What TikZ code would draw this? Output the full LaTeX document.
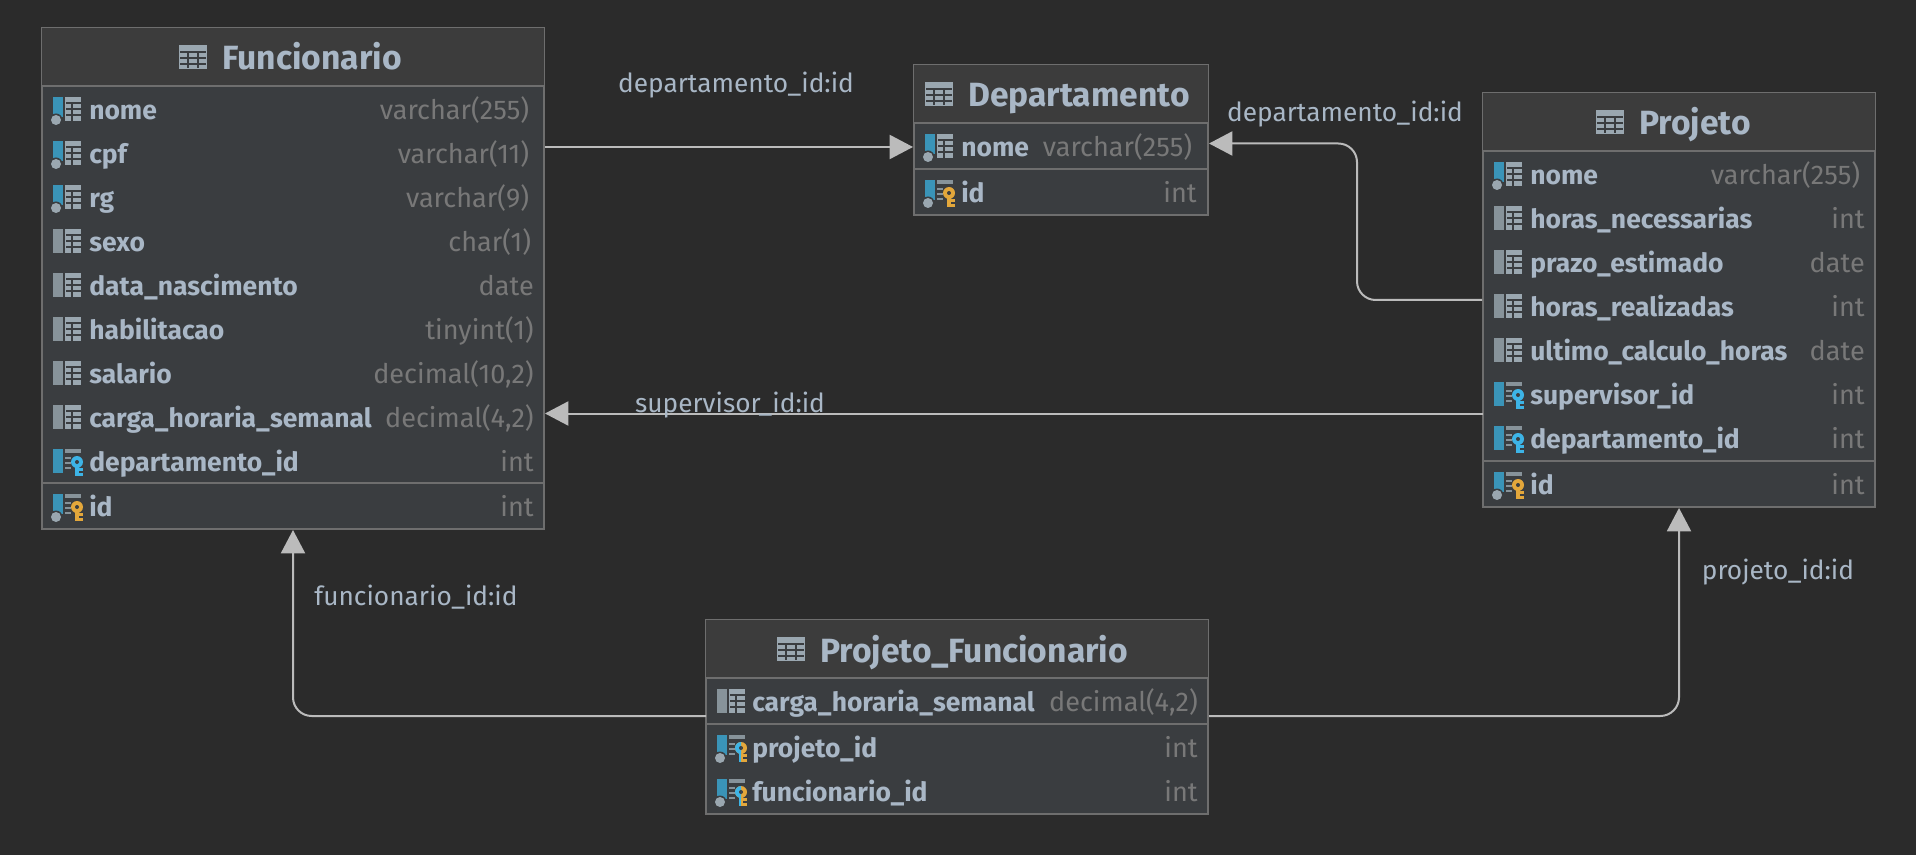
\documentclass[tikz,border=0pt]{standalone}
\usepackage{fontspec}
\setmainfont{Fira Sans}
\usetikzlibrary{arrows.meta,fit}
\definecolor{canvas}{HTML}{2B2B2B}
\definecolor{headfill}{HTML}{3C3C3C}
\definecolor{bodyfill}{HTML}{3A3D40}
\definecolor{rulegrey}{HTML}{6E6E6E}
\definecolor{namecol}{HTML}{A9B7C6}
\definecolor{typecol}{HTML}{787878}
\definecolor{linkcol}{HTML}{BBBBBB}
\definecolor{icongrey}{HTML}{9AA7B0}
\definecolor{barblue}{HTML}{3A94B8}
\definecolor{barmuted}{HTML}{87939A}
\definecolor{keygold}{HTML}{E3A73B}
\definecolor{keyblue}{HTML}{3DB4E6}
\tikzset{
  tablebox/.style={draw=rulegrey, line width=1.5pt, fill=bodyfill, inner sep=0pt},
  tablerule/.style={draw=rulegrey, line width=1.5pt},
  titletext/.style={font=\fontsize{25.2}{27}\selectfont\bfseries, text=namecol, anchor=base west, inner sep=0pt},
  nametext/.style={font=\fontsize{19.85}{22}\selectfont\bfseries, text=namecol, anchor=base west, inner sep=0pt},
  typetext/.style={font=\fontsize{20.3}{22}\selectfont, text=typecol, anchor=base east, inner sep=0pt},
  linktext/.style={font=\fontsize{19.7}{22}\selectfont, text=namecol, inner sep=0pt},
  fklink/.style={draw=linkcol, line width=1.5pt, rounded corners=14pt, -{Triangle[length=17.5pt,width=18pt,color=linkcol]}},
  pics/tablemark/.style={code={
    \fill[icongrey] (0,-12) rectangle (28,12);
    \foreach \gy in {-5,1,7} \draw[bodyfill,line width=.9pt] (1,\gy) -- (27,\gy);
    \foreach \gx in {9,19} \draw[bodyfill,line width=.9pt] (\gx,-5) -- (\gx,11);
  }},
  pics/cellgrid/.style={code={
    \fill[icongrey] (12,-13) rectangle (28,11);
    \foreach \gy in {-7,-1,5} \draw[bodyfill,line width=.9pt] (13,\gy) -- (28,\gy);
    \draw[bodyfill,line width=.9pt] (19,-7) -- (19,11);
  }},
  pics/celllist/.style={code={
    \fill[barmuted] (12,-13) rectangle (28,-9);
    \foreach \gy in {-4,1,6} \draw[barmuted,line width=1pt] (12,\gy) -- (18,\gy);
  }},
  pics/keymark/.style={code={
    \fill[#1] (22,0) rectangle (26,14);
    \fill[#1] (26,6) rectangle (30,9);
    \fill[#1] (26,11) rectangle (30,14);
    \fill[#1] (24,0) circle (6);
    \fill[bodyfill] (24,0) circle (2);
  }},
  pics/nullbar/.style={code={
    \fill[barblue] (0,-13) rectangle (10,7);
    \fill[bodyfill] (3,10) circle (6.5);
    \fill[icongrey] (3,10) circle (5);
  }},
  pics/plain/.style={code={
    \fill[barmuted] (0,-13) rectangle (10,11);
    \pic {cellgrid};
  }},
  pics/indexed/.style={code={
    \pic {nullbar};
    \pic {cellgrid};
  }},
  pics/foreign/.style={code={
    \fill[barblue] (0,-13) rectangle (10,11);
    \pic {celllist};
    \pic {keymark=keyblue};
  }},
  pics/primary/.style={code={
    \pic {nullbar};
    \pic {celllist};
    \pic {keymark=keygold};
  }},
  pics/composite/.style={code={
    \pic {nullbar};
    \pic {celllist};
    \pic {keymark=keygold};
    \fill[keyblue] (22,0) rectangle (24,14);
    \begin{scope}
      \clip (18,-6) rectangle (24,6);
      \fill[keyblue] (24,0) circle (6);
      \fill[bodyfill] (24,0) circle (2);
    \end{scope}
  }},
}
% header band and its rule, #1 table, #2 y of the rule
\newcommand\tablehead[2]{
  \fill[headfill] ([shift={(1,1)}]#1.north west) rectangle ([xshift=-1pt]#1.east |- 0,#2);
  \draw[tablerule] (#1.west |- 0,#2) -- (#1.east |- 0,#2);
}
% the varchar types stop short of the others
\newcommand\typepad{\kern3.5pt}
\begin{document}
\begin{tikzpicture}[x=.75pt,y=-.75pt]
\useasboundingbox[fill=canvas] (0,0) rectangle (1916,855);

% Funcionario
\node[tablebox, fit={(42,28)(544,529)}] (funcionario) {};
\tablehead{funcionario}{86}
\pic at (179,57) {tablemark};
\node[titletext] (funcionario-title) at (222,70) {Funcionario};
\foreach \rowid/\rowtext/\rowtype/\rowicon/\rowy in {
  nome/nome/varchar(255)\typepad/indexed/110, cpf/cpf/varchar(11)\typepad/indexed/154, rg/rg/varchar(9)\typepad/indexed/198,
  sexo/sexo/char(1)\kern2pt/plain/242, nasc/data\_nascimento/date/plain/286, hab/habilitacao/tinyint(1)/plain/330,
  sal/salario/{decimal(10,2)}/plain/374, carga/carga\_horaria\_semanal/{decimal(4,2)}/plain/418,
  dep/departamento\_id/int/foreign/462, id/id/int/primary/507}{
  \pic at (53,\rowy) {\rowicon};
  \node[nametext] (f-\rowid) at (89,\rowy+9.5) {\rowtext};
  \node[typetext] (f-\rowid-type) at (534,\rowy+9.5) {\rowtype};
}
\draw[tablerule] (funcionario.west |- 0,483) -- (funcionario.east |- 0,483);

% Departamento
\node[tablebox, fit={(914,65)(1208,215)}] (departamento) {};
\tablehead{departamento}{123}
\pic at (925,94) {tablemark};
\node[titletext] (departamento-title) at (968,107) {Departamento};
\foreach \rowid/\rowtext/\rowtype/\rowicon/\rowy in {
  nome/nome/varchar(255)\typepad/indexed/147, id/id/int/primary/193}{
  \pic at (925,\rowy) {\rowicon};
  \node[nametext] (d-\rowid) at (961,\rowy+9.5) {\rowtext};
  \node[typetext] (d-\rowid-type) at (1197,\rowy+9.5) {\rowtype};
}
\draw[tablerule] (departamento.west |- 0,169) -- (departamento.east |- 0,169);

% Projeto
\node[tablebox, fit={(1483,93)(1875,507)}] (projeto) {};
\tablehead{projeto}{151}
\pic at (1596,122) {tablemark};
\node[titletext] (projeto-title) at (1639,135) {Projeto};
\foreach \rowid/\rowtext/\rowtype/\rowicon/\rowy in {
  nome/nome/varchar(255)\typepad/indexed/175, neces/horas\_necessarias/int/plain/219, prazo/prazo\_estimado/date/plain/263,
  real/horas\_realizadas/int/plain/307, calc/ultimo\_calculo\_horas/date/plain/351,
  sup/supervisor\_id/int/foreign/395, dep/departamento\_id/int/foreign/439, id/id/int/primary/485}{
  \pic at (1494,\rowy) {\rowicon};
  \node[nametext] (p-\rowid) at (1530,\rowy+9.5) {\rowtext};
  \node[typetext] (p-\rowid-type) at (1865,\rowy+9.5) {\rowtype};
}
\draw[tablerule] (projeto.west |- 0,461) -- (projeto.east |- 0,461);

% Projeto_Funcionario
\node[tablebox, fit={(706,620)(1208,814)}] (projfunc) {};
\tablehead{projfunc}{678}
\pic at (777,649) {tablemark};
\node[titletext] (projfunc-title) at (820,662) {Projeto\_Funcionario};
\foreach \rowid/\rowtext/\rowtype/\rowicon/\rowy in {
  carga/carga\_horaria\_semanal/{decimal(4,2)}/plain/702, proj/projeto\_id/int/composite/748, func/funcionario\_id/int/composite/792}{
  \pic at (717,\rowy) {\rowicon};
  \node[nametext] (pf-\rowid) at (752,\rowy+9.5) {\rowtext};
  \node[typetext] (pf-\rowid-type) at (1198,\rowy+9.5) {\rowtype};
}
\draw[tablerule] (projfunc.west |- 0,724) -- (projfunc.east |- 0,724);

% links
\coordinate (bendreal) at (1357,300);
\coordinate (bendsup) at (1483,413.5);
\coordinate (bendpf) at (706,716);
\draw[fklink] (funcionario.east |- 0,147) -- (departamento.west |- 0,147);
\draw[fklink] (projeto.west |- bendreal) -- (bendreal) -- (bendreal |- 0,143.5) -- (departamento.east |- 0,143.5);
\draw[fklink] (bendsup) -- (funcionario.east |- bendsup);
\draw[fklink] (bendpf) -- (293,716) -- (funcionario.south -| 293,0);
\draw[fklink] (projfunc.east |- bendpf) -- (1679,716) -- (projeto.south -| 1679,0);

\node[linktext] (link-dep-a) at (736,85) {departamento\_id:id};
\node[linktext] (link-dep-b) at (1345,114) {departamento\_id:id};
\node[linktext] (link-sup) at (730,405) {supervisor\_id:id};
\node[linktext] (link-func) at (416,597) {funcionario\_id:id};
\node[linktext] (link-proj) at (1778,572) {projeto\_id:id};
\end{tikzpicture}
\end{document}
